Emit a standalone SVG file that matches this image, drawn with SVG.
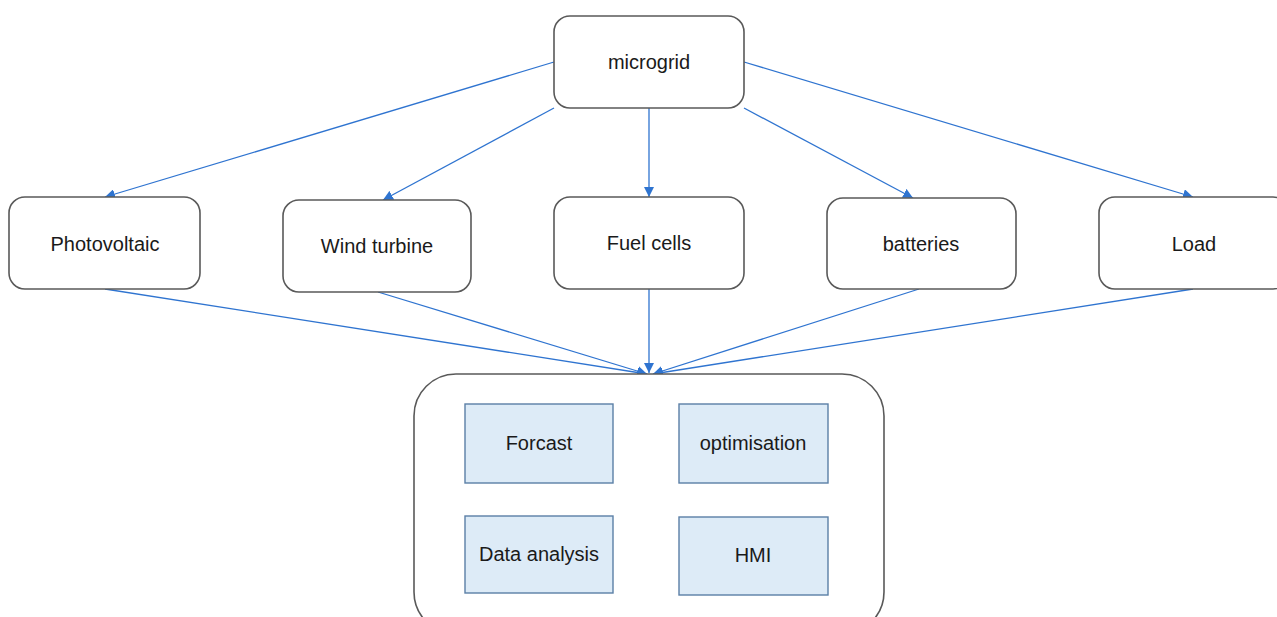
<svg xmlns="http://www.w3.org/2000/svg" width="1277" height="617" viewBox="0 0 1277 617">
<defs>
<marker id="arr" viewBox="0 0 10 10" refX="10" refY="5" markerWidth="10" markerHeight="10" markerUnits="userSpaceOnUse" orient="auto">
<path d="M0,0 L10,5 L0,10 z" fill="#2F74D0"/>
</marker>
<style>
.node{fill:#fff;stroke:#595959;stroke-width:1.6}
.sub{fill:#DDEBF7;stroke:#5B7FA6;stroke-width:1.4}
text{font-family:"Liberation Sans",Arial,sans-serif;font-size:20px;fill:#1a1a1a;text-anchor:middle}
.c{stroke:#2F74D0;stroke-width:1.3;fill:none;marker-end:url(#arr)}
</style>
</defs>
<rect width="1277" height="617" fill="#fff"/>
<g id="connectors">
<line class="c" x1="554" y1="62" x2="105" y2="197"/>
<line class="c" x1="554" y1="108" x2="383" y2="200"/>
<line class="c" x1="649" y1="108" x2="649" y2="197"/>
<line class="c" x1="744" y1="108" x2="913" y2="198"/>
<line class="c" x1="744" y1="62" x2="1193" y2="197"/>
<line class="c" x1="105" y1="289" x2="647" y2="374"/>
<line class="c" x1="378" y1="292" x2="647" y2="374"/>
<line class="c" x1="649" y1="289" x2="649" y2="373"/>
<line class="c" x1="919" y1="289" x2="653" y2="374"/>
<line class="c" x1="1193" y1="289" x2="653" y2="374"/>
</g>
<g id="microgrid"><rect class="node" x="554" y="16" width="190" height="92" rx="16"/><text x="649" y="69">microgrid</text></g>
<g id="photovoltaic"><rect class="node" x="9" y="197" width="191" height="92" rx="16"/><text x="105" y="251">Photovoltaic</text></g>
<g id="wind-turbine"><rect class="node" x="283" y="200" width="188" height="92" rx="16"/><text x="377" y="253">Wind turbine</text></g>
<g id="fuel-cells"><rect class="node" x="554" y="197" width="190" height="92" rx="16"/><text x="649" y="250">Fuel cells</text></g>
<g id="batteries"><rect class="node" x="827" y="198" width="189" height="91" rx="16"/><text x="921" y="251">batteries</text></g>
<g id="load"><rect class="node" x="1099" y="197" width="190" height="92" rx="16"/><text x="1194" y="251">Load</text></g>
<g id="control">
<rect class="node" x="414" y="374" width="470" height="260" rx="42"/>
<g id="forcast"><rect class="sub" x="465" y="404" width="148" height="79"/><text x="539" y="450">Forcast</text></g>
<g id="optimisation"><rect class="sub" x="679" y="404" width="149" height="79"/><text x="753" y="450">optimisation</text></g>
<g id="data-analysis"><rect class="sub" x="465" y="516" width="148" height="77"/><text x="539" y="561">Data analysis</text></g>
<g id="hmi"><rect class="sub" x="679" y="517" width="149" height="78"/><text x="753" y="562">HMI</text></g>
</g>
</svg>
